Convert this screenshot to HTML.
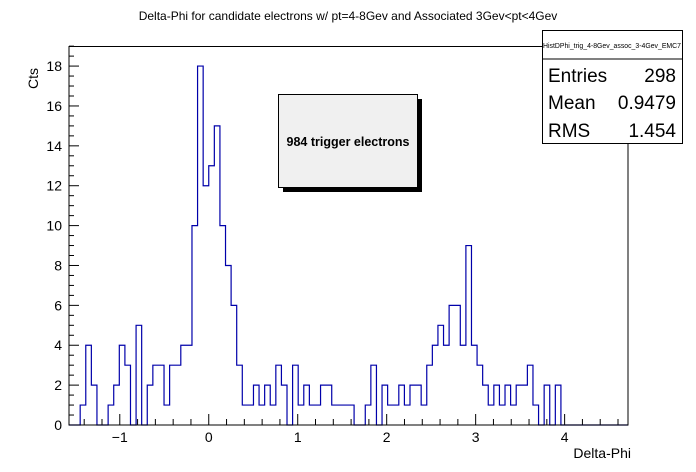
<!DOCTYPE html>
<html><head><meta charset="utf-8"><style>
html,body{margin:0;padding:0;background:#fff;}
svg{display:block;font-family:"Liberation Sans",sans-serif;}
</style></head><body>
<svg id="chart" width="696" height="472" viewBox="0 0 696 472">
<rect x="0" y="0" width="696" height="472" fill="#fff"/>
<text x="348" y="20" font-size="12" text-anchor="middle" fill="#000">Delta-Phi for candidate electrons w/ pt=4-8Gev and Associated 3Gev&lt;pt&lt;4Gev</text>
<g id="axes"></g>
<path id="hist" fill="none" stroke="#0000aa" stroke-width="1.2"/>
<rect x="69" y="46.5" width="559" height="378.5" fill="none" stroke="#000" stroke-width="1"/>
<text x="631" y="458" font-size="14" text-anchor="end">Delta-Phi</text>
<text x="38" y="68" font-size="14" text-anchor="end" transform="rotate(-90 38 68)">Cts</text>
<g>
<rect x="283" y="99" width="139" height="93" fill="#000"/>
<rect x="278.5" y="94.5" width="139" height="93" fill="#f0f0f0" stroke="#000" stroke-width="1"/>
<text x="348" y="146" font-size="12.5" font-weight="bold" text-anchor="middle">984 trigger electrons</text>
</g>
<g>
<rect x="542.5" y="30.5" width="140" height="113" fill="#fff" stroke="#000" stroke-width="1"/>
<line x1="542.5" y1="59" x2="682.5" y2="59" stroke="#000"/>
<text x="612" y="48" font-size="7" text-anchor="middle" textLength="138" lengthAdjust="spacingAndGlyphs">HistDPhi_trig_4-8Gev_assoc_3-4Gev_EMC7</text>
<text x="548" y="82" font-size="19">Entries</text>
<text x="676" y="82" font-size="19" text-anchor="end">298</text>
<text x="548" y="109" font-size="19">Mean</text>
<text x="676" y="109" font-size="19" text-anchor="end">0.9479</text>
<text x="548" y="137" font-size="19">RMS</text>
<text x="676" y="137" font-size="19" text-anchor="end">1.454</text>
</g>
</svg>
<script>
const binCounts = [0,0,1,4,2,0,0,1,2,4,3,0,5,0,2,3,3,1,3,3,4,4,10,18,12,13,15,10,8,6,3,1,1,2,1,2,1,3,2,0,3,1,2,1,1,2,2,1,1,1,1,0,0,1,3,0,2,1,1,2,1,2,2,1,3,4,5,4,6,6,4,9,4,3,2,1,2,1,2,1,2,2,3,1,0,2,0,2,0,0,0,0,0,0,0,0,0,0,0,0];
const xRange = [-Math.PI/2, 3*Math.PI/2];
const yRange = [0, 19];
const xTickLabels = [-1,0,1,2,3,4];
const yTickLabels = [0,2,4,6,8,10,12,14,16,18];

const X0=69, X1=628, Y0=425, Y1=46.5;
const yPerUnit = 19.94;
function sx(v){return X0+(v-xRange[0])/(xRange[1]-xRange[0])*(X1-X0);}
function sy(v){return Y0-v*yPerUnit;}

const NS="http://www.w3.org/2000/svg";
const axes=document.getElementById('axes');
function line(x1,y1,x2,y2){const l=document.createElementNS(NS,'line');l.setAttribute('x1',x1);l.setAttribute('y1',y1);l.setAttribute('x2',x2);l.setAttribute('y2',y2);l.setAttribute('stroke','#000');l.setAttribute('stroke-width','1');axes.appendChild(l);return l;}
function text(x,y,s,anchor){const t=document.createElementNS(NS,'text');t.setAttribute('x',x);t.setAttribute('y',y);t.setAttribute('font-size','14');t.setAttribute('text-anchor',anchor);t.textContent=s;axes.appendChild(t);return t;}

for(let v=0; v<=19.001; v+=0.5){
  const major=Math.abs(v/2-Math.round(v/2))<1e-6;
  const t=line(X0,sy(v),X0+(major?10:5),sy(v));
  
  
}
yTickLabels.forEach(v=>{
  const t=text(X0-7,sy(v)+5,String(v),'end');
  
  
});
for(let i=-7;i<=23;i++){
  const v=i*0.2; if(v<xRange[0]||v>xRange[1]) continue;
  const major=i%5===0;
  const t=line(sx(v),Y0,sx(v),Y0-(major?11:6));
  
  
}
xTickLabels.forEach(v=>{
  const t=text(sx(v),Y0+17,v<0?'\u2212'+Math.abs(v):String(v),'middle');
  
  
});

const n=binCounts.length, w=(xRange[1]-xRange[0])/n;
let d='M'+sx(xRange[0])+','+sy(0);
binCounts.forEach((c,i)=>{
  const a=sx(xRange[0]+i*w), b=sx(xRange[0]+(i+1)*w);
  d+=' L'+a+','+sy(c)+' L'+b+','+sy(c);
});
document.getElementById('hist').setAttribute('d',d);
</script>
</body></html>
